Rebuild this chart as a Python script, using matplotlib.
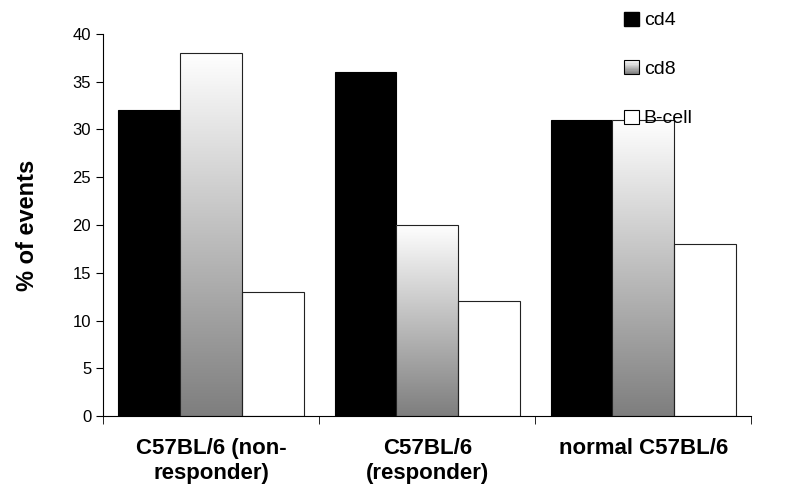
import numpy as np
import matplotlib
matplotlib.use("Agg")
import matplotlib.pyplot as plt
from matplotlib.patches import Rectangle
from matplotlib.legend_handler import HandlerBase
from matplotlib.colors import LinearSegmentedColormap

plt.rcParams['font.family'] = ['Liberation Sans', 'DejaVu Sans']

groups = ["C57BL/6 (non-\nresponder)", "C57BL/6\n(responder)", "normal C57BL/6"]
series = ["cd4", "cd8", "B-cell"]
cd4 = [32, 36, 31]
cd8 = [38, 20, 31]
bcell = [13, 12, 18]

fig = plt.figure(figsize=(7.86, 4.99), dpi=100)
ax = fig.add_axes([0.131, 0.166, 0.825, 0.766])

x = np.arange(len(groups))
w = 1 / 3.5
grad = LinearSegmentedColormap.from_list("g", ["#7e7e7e", "#ffffff"])
ramp = np.linspace(0, 1, 256).reshape(-1, 1)

ax.bar(x - w, cd4, w, color="black", edgecolor="black", linewidth=0.8, zorder=2)

# cd8 bars: outline plus a vertical white-to-gray fill
bars = ax.bar(x, cd8, w, color="none", edgecolor="#222222", linewidth=0.8, zorder=3)
for b in bars:
    im = ax.imshow(ramp, cmap=grad, origin="lower", aspect="auto", zorder=2,
                   extent=[b.get_x(), b.get_x() + b.get_width(), 0, b.get_height()])
    im.set_clip_path(b)

ax.bar(x + w, bcell, w, color="white", edgecolor="#222222", linewidth=0.8, zorder=2)

ax.set_xlim(-0.5, 2.5)
ax.set_ylim(0, 40)
ax.set_yticks(range(0, 41, 5))
ax.tick_params(axis="y", labelsize=12, length=5, direction="out")
ax.set_xticks(x)
ax.set_xticklabels(groups, fontsize=16, fontweight="bold", linespacing=1.2)
ax.tick_params(axis="x", length=0, pad=16)
ax.set_xticks(np.arange(-0.5, 3, 1), minor=True)
ax.tick_params(axis="x", which="minor", length=6, direction="out")
for s in ("top", "right"):
    ax.spines[s].set_visible(False)
ax.set_ylabel("% of events", fontsize=17, fontweight="bold", labelpad=24)


class GradientHandler(HandlerBase):
    def create_artists(self, legend, orig, xd, yd, width, height, fontsize, trans):
        arts = []
        n = 12
        for i in range(n):
            c = grad(1 - i / (n - 1))
            arts.append(Rectangle((xd, yd + height * (n - 1 - i) / n), width, height / n,
                                  facecolor=c, edgecolor="none", transform=trans))
        arts.append(Rectangle((xd, yd), width, height, facecolor="none",
                              edgecolor="black", linewidth=0.8, transform=trans))
        return arts


h_cd4 = Rectangle((0, 0), 1, 1, facecolor="black", edgecolor="black")
h_cd8 = Rectangle((0, 0), 1, 1, facecolor="none", edgecolor="black")
h_b = Rectangle((0, 0), 1, 1, facecolor="white", edgecolor="black", linewidth=0.8)
fig.legend([h_cd4, h_cd8, h_b], series, loc="upper left", bbox_to_anchor=(0.772, 1.012),
           frameon=False, fontsize=14, handlelength=0.75, handleheight=0.75,
           handletextpad=0.25, labelspacing=1.6,
           handler_map={h_cd8: GradientHandler()})

fig.savefig("out.png", dpi=100)
